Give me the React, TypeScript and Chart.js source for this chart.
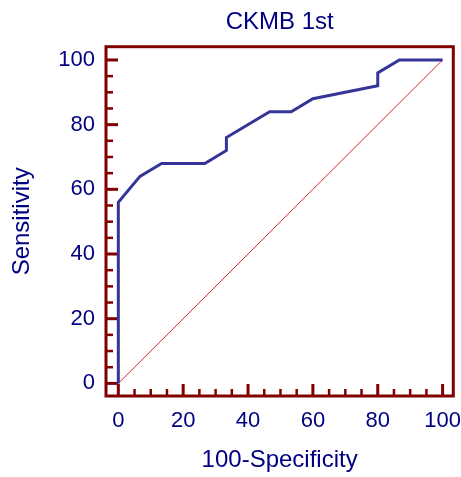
import React, { useEffect, useRef } from "react";
import { Chart, registerables } from "chart.js";

Chart.register(...registerables);

const chartTitle = "CKMB 1st";
const xAxisTitle = "100-Specificity";
const yAxisTitle = "Sensitivity";

// ROC curve points
const rocX = [0, 0, 6.67, 13.33, 26.67, 33.33, 33.33, 46.67, 53.33, 60, 80, 80, 86.67, 100];
const rocY = [0, 56, 64, 68, 68, 72, 76, 84, 84, 88, 92, 96, 100, 100];

// reference diagonal
const diagX = [0, 100];
const diagY = [0, 100];

const majorTicks = [0, 20, 40, 60, 80, 100];
const minorTicks = [5, 10, 15, 25, 30, 35, 45, 50, 55, 65, 70, 75, 85, 90, 95];

const FONT = "'Liberation Sans', Arial, Helvetica, sans-serif";
const TEXT = "#000080";
const FRAME = "#800000";

const framePlugin = {
  id: "frame",
  beforeDatasetsDraw(chart: any) {
    const { ctx, chartArea } = chart;
    const xs = chart.scales.x;
    const ys = chart.scales.y;
    ctx.save();
    ctx.strokeStyle = FRAME;
    ctx.lineCap = "butt";
    const drawTick = (v: number, len: number, w: number) => {
      ctx.lineWidth = w;
      const px = xs.getPixelForValue(v);
      ctx.beginPath();
      ctx.moveTo(px, chartArea.bottom);
      ctx.lineTo(px, chartArea.bottom - len);
      ctx.stroke();
      const py = ys.getPixelForValue(v);
      ctx.beginPath();
      ctx.moveTo(chartArea.left, py);
      ctx.lineTo(chartArea.left + len, py);
      ctx.stroke();
    };
    majorTicks.forEach((v) => drawTick(v, 12, 3));
    minorTicks.forEach((v) => drawTick(v, 7, 2.5));
    ctx.restore();
  },
  afterDraw(chart: any) {
    const { ctx, chartArea } = chart;
    ctx.save();
    ctx.strokeStyle = FRAME;
    ctx.lineWidth = 3;
    ctx.strokeRect(
      chartArea.left,
      chartArea.top,
      chartArea.right - chartArea.left,
      chartArea.bottom - chartArea.top
    );
    ctx.restore();
  },
};

export default function App() {
  const ref = useRef<HTMLCanvasElement | null>(null);

  useEffect(() => {
    if (!ref.current) return;
    const chart = new Chart(ref.current, {
      type: "scatter",
      data: {
        datasets: [
          {
            data: diagX.map((x, i) => ({ x, y: diagY[i] })),
            showLine: true,
            borderColor: "rgb(215, 40, 40)",
            borderWidth: 1,
            pointRadius: 0,
            order: 2,
          },
          {
            data: rocX.map((x, i) => ({ x, y: rocY[i] })),
            showLine: true,
            borderColor: "#353599",
            borderWidth: 3,
            borderJoinStyle: "miter",
            pointRadius: 0,
            order: 1,
          },
        ],
      },
      options: {
        animation: false,
        responsive: true,
        maintainAspectRatio: false,
        layout: { padding: { left: 0, right: 7.7, top: 0, bottom: 0 } },
        plugins: {
          legend: { display: false },
          tooltip: { enabled: false },
          title: {
            display: true,
            text: chartTitle,
            fullSize: false,
            color: TEXT,
            font: { family: FONT, size: 24, weight: "normal" },
            padding: { top: 7.6, bottom: 10.3 },
          },
        },
        scales: {
          x: {
            type: "linear",
            min: -3.8,
            max: 103.3,
            grid: { display: false, drawTicks: false },
            border: { display: false },
            afterBuildTicks: (s: any) => {
              s.ticks = majorTicks.map((v) => ({ value: v }));
            },
            afterFit: (s: any) => {
              s.height = 81;
              s.paddingLeft = 0;
              s.paddingRight = 0;
            },
            ticks: {
              color: TEXT,
              font: { family: FONT, size: 22 },
              padding: 11.5,
              maxRotation: 0,
              autoSkip: false,
            },
            title: {
              display: true,
              text: xAxisTitle,
              color: TEXT,
              font: { family: FONT, size: 24 },
              padding: { top: 0, bottom: 2.6 },
            },
          },
          y: {
            type: "linear",
            min: -3.9,
            max: 104.1,
            grid: { display: false, drawTicks: false },
            border: { display: false },
            afterBuildTicks: (s: any) => {
              s.ticks = majorTicks.map((v) => ({ value: v }));
            },
            afterFit: (s: any) => {
              s.width = 106;
              s.paddingTop = 0;
              s.paddingBottom = 0;
            },
            ticks: {
              color: TEXT,
              font: { family: FONT, size: 22 },
              padding: 11,
              autoSkip: false,
            },
            title: {
              display: true,
              text: yAxisTitle,
              color: TEXT,
              font: { family: FONT, size: 24 },
              padding: { top: 7.6, bottom: 0 },
            },
          },
        },
      },
      plugins: [framePlugin],
    });
    return () => chart.destroy();
  }, []);

  return (
    <div style={{ position: "fixed", left: 0, top: 0, width: 461, height: 477, background: "#fff" }}>
      <canvas ref={ref} />
    </div>
  );
}
